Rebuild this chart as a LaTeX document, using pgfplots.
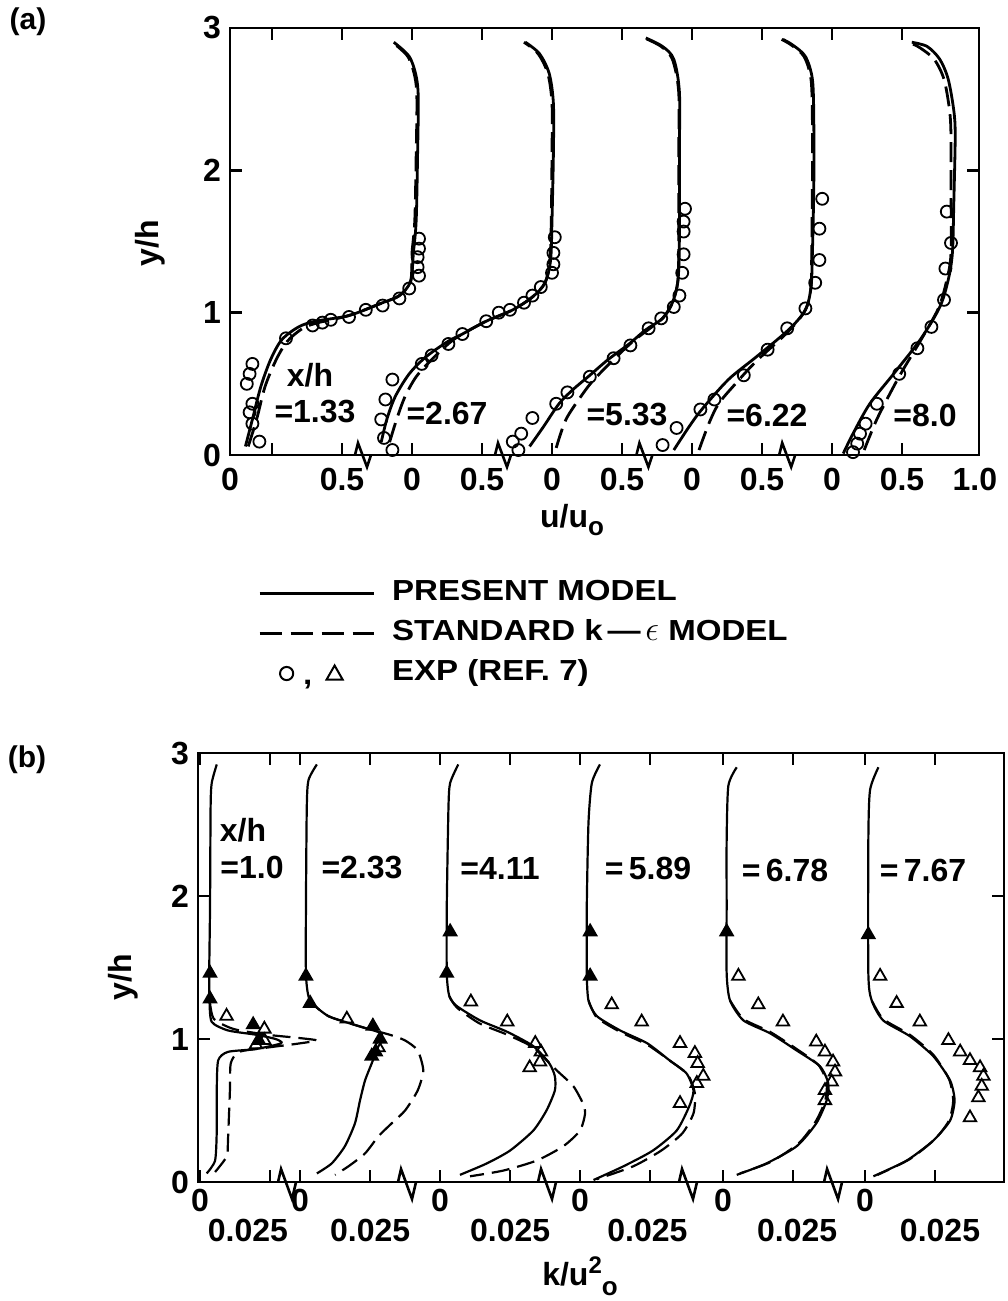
\documentclass[border=0pt]{standalone}
\usepackage{pgfplots}
\pgfplotsset{compat=1.18}
\usepackage{fontspec}
\setmainfont{Liberation Sans}
\newfontfamily\legfam{Liberation Sans}[FakeStretch=1.14]
\newcommand\tfont{\fontsize{16}{18}\selectfont\bfseries}
\newcommand\lfont{\legfam\fontsize{14.5}{17}\selectfont\bfseries}
\pgfplotsset{
  solidA/.style={black, line width=1.4pt, smooth, tension=0.5, forget plot, mark=none},
  dashA/.style={black, line width=1.4pt, smooth, tension=0.5, dash pattern=on 10pt off 4pt, forget plot, mark=none},
  solidB/.style={black, line width=1.1pt, smooth, tension=0.4, forget plot, mark=none},
  dashB/.style={black, line width=1.1pt, smooth, tension=0.4, dash pattern=on 9pt off 4pt, forget plot, mark=none},
  circ/.style={black, only marks, mark=o, mark size=3pt, mark options={line width=0.9pt, solid}, forget plot},
  tri/.style={black, only marks, mark=triangle, mark size=3.6pt, mark options={line width=0.9pt, solid}, forget plot},
  trif/.style={black, only marks, mark=triangle*, mark size=3.6pt, mark options={line width=0.9pt, solid, fill=black}, forget plot},
  common/.style={scale only axis, clip=false, ymin=0, ymax=3,
    axis line style={line width=1.4pt}, tick style={line width=1.2pt, black},
    major tick length=6pt, tick align=inside,
    ytick={0,1,2,3}, yticklabels={0,1,2,3},
    ticklabel style={font=\tfont},
    yticklabel style={xshift=-1pt}},
}
\newcommand\brkA[1]{\draw[line width=1.3pt, black] ([xshift=-4pt]axis cs:#1,0) -- ([xshift=-2.5pt,yshift=6pt]axis cs:#1,0) -- ([xshift=2pt,yshift=-6pt]axis cs:#1,0) -- ([xshift=4pt]axis cs:#1,0);}
\newcommand\brkB[1]{\draw[line width=1.3pt, black] ([xshift=-4.5pt]axis cs:#1,0) -- ([xshift=-3pt,yshift=6.5pt]axis cs:#1,0) -- ([xshift=2.5pt,yshift=-8.5pt]axis cs:#1,0) -- ([xshift=4.5pt]axis cs:#1,0);}
\begin{document}
\begin{tikzpicture}
\useasboundingbox (0pt,0pt) rectangle (503.5pt,-650.5pt);
% ---------------- panel (a) ----------------
\begin{axis}[common,
  at={(115pt,-14pt)}, anchor=north west, width=374.5pt, height=213.5pt,
  xmin=0, xmax=5.35,
  xtick={0,0.3,0.8,1.3,1.8,2.3,2.8,3.3,3.8,4.3,4.8},
  xticklabels={0,,0.5,0,0.5,0,0.5,0,0.5,0,0.5},
  extra x ticks={5.32}, extra x tick labels={1.0},
  extra x tick style={major tick length=0pt},
  xticklabel style={yshift=-3pt},
  legend image code/.code={\draw[#1] (0pt,0pt) -- (57pt,0pt);},
  legend cell align=left,
  legend style={at={(0.037,-0.293)}, anchor=north west, draw=none, fill=none,
    inner sep=0pt, row sep=7pt, font=\lfont,
    nodes={inner sep=0pt, text height=10pt, text depth=3pt},
    /tikz/every odd column/.append style={column sep=8.5pt}},
]
\addlegendimage{black, line width=1.5pt}
\addlegendentry{PRESENT MODEL}
\addlegendimage{black, line width=1.5pt, dash pattern=on 11pt off 4.5pt}
\addlegendentry{STANDARD k\,\textemdash\,{\fontsize{17}{17}\selectfont$\epsilon$} MODEL}
\addlegendimage{legend image code/.code={
   \draw[line width=1pt] (13.5pt,0pt) circle[radius=3.3pt];
   \node[inner sep=0pt, font=\lfont] at (21.5pt,-2pt) {,};
   \draw[line width=1pt] (33.5pt,-3pt) -- (41.5pt,-3pt) -- (37.5pt,4pt) -- cycle;}}
\addlegendentry{EXP (REF. 7)}
% x/h = 1.33 (offset 0.3)
\addplot[solidA] table[x expr=\thisrowno{0}+0.3, y index=1] {
-0.19 0.06
-0.14 0.25
-0.08 0.48
-0.01 0.67
0.07 0.81
0.19 0.90
0.31 0.94
0.55 0.98
0.79 1.07
0.91 1.12
0.99 1.22
1.01 1.42
1.03 1.65
1.04 2.12
1.045 2.50
1.03 2.66
0.98 2.80
0.87 2.90
};
\addplot[dashA] table[x expr=\thisrowno{0}+0.3, y index=1] {
-0.17 0.06
-0.11 0.25
-0.05 0.48
0.03 0.67
0.11 0.80
0.22 0.89
0.33 0.93
0.55 0.98
0.79 1.07
0.91 1.12
0.99 1.22
1.00 1.42
1.02 1.65
1.03 2.12
1.035 2.50
1.02 2.66
0.97 2.80
0.86 2.90
};
\addplot[circ] table[x expr=\thisrowno{0}+0.3, y index=1] {
-0.09 0.094
-0.14 0.22
-0.16 0.30
-0.14 0.36
-0.18 0.50
-0.16 0.57
-0.14 0.64
0.10 0.82
0.29 0.91
0.36 0.93
0.42 0.95
0.55 0.97
0.67 1.02
0.79 1.05
0.91 1.10
0.98 1.17
1.05 1.26
1.04 1.32
1.04 1.39
1.05 1.45
1.05 1.52
};
% x/h = 2.67 (offset 1.3)
\addplot[solidA] table[x expr=\thisrowno{0}+1.3, y index=1] {
-0.22 0.09
-0.18 0.25
-0.12 0.41
-0.02 0.57
0.10 0.69
0.26 0.80
0.36 0.85
0.53 0.94
0.72 1.02
0.86 1.11
0.95 1.21
0.99 1.37
1.00 1.65
1.01 2.12
1.01 2.47
0.98 2.68
0.91 2.82
0.81 2.90
};
\addplot[dashA] table[x expr=\thisrowno{0}+1.3, y index=1] {
-0.16 0.09
-0.11 0.25
-0.05 0.41
0.03 0.55
0.14 0.67
0.27 0.79
0.36 0.85
0.53 0.94
0.72 1.02
0.86 1.11
0.95 1.21
0.985 1.37
0.995 1.65
1.00 2.12
1.00 2.47
0.97 2.68
0.90 2.82
0.80 2.90
};
\addplot[circ] table[x expr=\thisrowno{0}+1.3, y index=1] {
-0.14 0.035
-0.20 0.12
-0.22 0.25
-0.19 0.39
-0.14 0.53
0.07 0.64
0.14 0.70
0.26 0.78
0.36 0.85
0.53 0.94
0.62 1.00
0.70 1.02
0.80 1.07
0.86 1.12
0.92 1.18
1.00 1.28
1.01 1.34
1.01 1.42
1.02 1.53
};
% x/h = 5.33 (offset 2.3)
\addplot[solidA] table[x expr=\thisrowno{0}+2.3, y index=1] {
-0.16 0.06
-0.06 0.20
0.05 0.36
0.15 0.46
0.27 0.56
0.40 0.67
0.55 0.78
0.67 0.88
0.79 0.96
0.86 1.07
0.90 1.23
0.91 1.53
0.91 2.12
0.91 2.55
0.87 2.78
0.79 2.87
0.67 2.93
};
\addplot[dashA] table[x expr=\thisrowno{0}+2.3, y index=1] {
0.03 0.05
0.10 0.25
0.22 0.43
0.30 0.53
0.45 0.68
0.58 0.80
0.70 0.89
0.79 0.96
0.86 1.07
0.90 1.23
0.905 1.53
0.905 2.12
0.905 2.55
0.86 2.78
0.78 2.87
0.66 2.93
};
\addplot[circ] table[x expr=\thisrowno{0}+2.3, y index=1] {
-0.28 0.094
-0.24 0.035
-0.22 0.15
-0.14 0.26
0.03 0.36
0.11 0.44
0.27 0.55
0.44 0.68
0.56 0.77
0.69 0.89
0.78 0.96
0.87 1.04
0.91 1.12
0.93 1.28
0.94 1.41
0.94 1.57
0.94 1.64
0.95 1.73
};
% x/h = 6.22 (offset 3.3)
\addplot[solidA] table[x expr=\thisrowno{0}+3.3, y index=1] {
-0.13 0.035
-0.02 0.20
0.07 0.32
0.26 0.53
0.46 0.69
0.69 0.88
0.81 1.02
0.85 1.18
0.86 1.42
0.87 1.89
0.87 2.35
0.86 2.64
0.81 2.80
0.72 2.88
0.65 2.92
};
\addplot[dashA] table[x expr=\thisrowno{0}+3.3, y index=1] {
0.05 0.035
0.12 0.22
0.19 0.36
0.31 0.50
0.46 0.66
0.69 0.87
0.81 1.02
0.85 1.18
0.855 1.42
0.86 1.89
0.86 2.35
0.85 2.64
0.80 2.80
0.71 2.88
0.64 2.92
};
\addplot[circ] table[x expr=\thisrowno{0}+3.3, y index=1] {
-0.21 0.07
-0.11 0.19
0.06 0.32
0.16 0.39
0.37 0.56
0.54 0.74
0.68 0.89
0.81 1.03
0.88 1.21
0.91 1.37
0.91 1.59
0.93 1.80
};
% x/h = 8.0 (offset 4.3)
\addplot[solidA] table[x expr=\thisrowno{0}+4.3, y index=1] {
0.08 0.01
0.15 0.15
0.27 0.36
0.44 0.57
0.63 0.81
0.77 1.04
0.83 1.23
0.86 1.42
0.87 1.77
0.88 2.24
0.87 2.42
0.83 2.64
0.77 2.78
0.68 2.87
0.57 2.90
};
\addplot[dashA] table[x expr=\thisrowno{0}+4.3, y index=1] {
0.23 0.035
0.32 0.25
0.44 0.48
0.52 0.62
0.63 0.80
0.76 1.03
0.82 1.23
0.85 1.42
0.85 1.89
0.85 2.24
0.84 2.42
0.80 2.64
0.73 2.78
0.63 2.86
0.57 2.89
};
\addplot[circ] table[x expr=\thisrowno{0}+4.3, y index=1] {
0.15 0.02
0.18 0.08
0.20 0.15
0.24 0.22
0.32 0.36
0.48 0.57
0.61 0.75
0.71 0.90
0.80 1.09
0.81 1.31
0.85 1.49
0.82 1.71
};
\brkA{0.95}\brkA{1.95}\brkA{2.96}\brkA{3.98}
\end{axis}
% ---------------- panel (b) ----------------
\begin{axis}[common,
  at={(99pt,-376.5pt)}, anchor=north west, width=403pt, height=214.5pt,
  xmin=0, xmax=5.757,
  xtick={0.014,0.514,0.729,1.229,1.729,2.229,2.729,3.229,3.75,4.25,4.764,5.264},
  xticklabels={0,,0,,0,,0,,0,,0,},
  extra x ticks={0.357,1.23,2.23,3.21,4.28,5.30},
  extra x tick labels={0.025,0.025,0.025,0.025,0.025,0.025},
  extra x tick style={major tick length=0pt, xticklabel style={yshift=-15pt}},
  xticklabel style={yshift=0pt},
]
% x/h = 1.0 (offset 0.014)
\addplot[solidB] table[x expr=\thisrowno{0}*20+0.014, y index=1] {
0.0060 2.92
0.0042 2.79
0.0038 2.62
0.0036 1.93
0.0033 1.46
0.0034 1.27
0.0042 1.12
0.0100 1.06
0.0200 1.03
0.0270 1.00
0.0290 0.97
0.0200 0.93
0.0100 0.91
0.0065 0.85
0.0060 0.64
0.0060 0.36
0.0054 0.15
0.0024 0.06
};
\addplot[dashB] table[x expr=\thisrowno{0}*20+0.014, y index=1] {
0.0036 1.25
0.0050 1.14
0.0120 1.07
0.0240 1.03
0.0340 1.01
0.0417 0.99
0.0340 0.965
0.0240 0.94
0.0140 0.91
0.0110 0.83
0.0107 0.64
0.0100 0.29
0.0096 0.18
0.0054 0.07
};
\addplot[trif] table[x expr=\thisrowno{0}*20+0.014, y index=1] {
0.0036 1.46
0.0036 1.28
0.0190 1.10
0.0210 0.99
};
\addplot[tri] table[x expr=\thisrowno{0}*20+0.014, y index=1] {
0.0095 1.16
0.0230 1.07
0.0230 0.99
0.0200 0.96
};
% x/h = 2.33 (offset 0.729)
\addplot[solidB] table[x expr=\thisrowno{0}*20+0.729, y index=1] {
0.0060 2.92
0.0030 2.81
0.0024 2.62
0.0021 1.93
0.0021 1.46
0.0030 1.30
0.0054 1.23
0.0101 1.16
0.0160 1.12
0.0244 1.07
0.0290 1.04
0.0290 0.98
0.0280 0.95
0.0256 0.83
0.0232 0.71
0.0214 0.57
0.0196 0.41
0.0160 0.25
0.0113 0.13
0.0060 0.06
};
\addplot[dashB] table[x expr=\thisrowno{0}*20+0.729, y index=1] {
0.0030 1.30
0.0054 1.23
0.0101 1.16
0.0160 1.12
0.0244 1.07
0.0320 1.03
0.0375 0.99
0.0420 0.92
0.0440 0.78
0.0420 0.64
0.0375 0.50
0.0327 0.41
0.0280 0.32
0.0232 0.20
0.0173 0.11
0.0125 0.05
};
\addplot[trif] table[x expr=\thisrowno{0}*20+0.729, y index=1] {
0.0021 1.44
0.0036 1.25
0.0260 1.09
0.0286 1.00
0.0270 0.91
0.0256 0.88
};
\addplot[tri] table[x expr=\thisrowno{0}*20+0.729, y index=1] {
0.0167 1.14
0.0280 0.94
};
% x/h = 4.11 (offset 1.729)
\addplot[solidB] table[x expr=\thisrowno{0}*20+1.729, y index=1] {
0.0065 2.92
0.0036 2.79
0.0030 2.62
0.0024 1.93
0.0024 1.46
0.0033 1.30
0.0060 1.23
0.0143 1.13
0.0240 1.05
0.0333 0.95
0.0390 0.83
0.0410 0.74
0.0410 0.64
0.0380 0.50
0.0333 0.36
0.0250 0.22
0.0167 0.13
0.0071 0.05
};
\addplot[dashB] table[x expr=\thisrowno{0}*20+1.729, y index=1] {
0.0033 1.30
0.0060 1.22
0.0140 1.11
0.0240 1.03
0.0333 0.94
0.0417 0.78
0.0476 0.67
0.0510 0.55
0.0518 0.48
0.0500 0.36
0.0440 0.25
0.0345 0.15
0.0226 0.08
0.0107 0.04
};
\addplot[trif] table[x expr=\thisrowno{0}*20+1.729, y index=1] {
0.0036 1.75
0.0024 1.46
};
\addplot[tri] table[x expr=\thisrowno{0}*20+1.729, y index=1] {
0.0110 1.26
0.0240 1.12
0.0340 0.97
0.0360 0.91
0.0357 0.84
0.0320 0.80
};
% x/h = 5.89 (offset 2.729)
\addplot[solidB] table[x expr=\thisrowno{0}*20+2.729, y index=1] {
0.0071 2.92
0.0042 2.79
0.0030 2.51
0.0024 1.93
0.0024 1.46
0.0030 1.27
0.0060 1.16
0.0143 1.06
0.0240 0.97
0.0320 0.85
0.0380 0.76
0.0405 0.64
0.0390 0.53
0.0345 0.36
0.0260 0.22
0.0155 0.11
0.0048 0.014
};
\addplot[dashB] table[x expr=\thisrowno{0}*20+2.729, y index=1] {
0.0030 1.27
0.0060 1.15
0.0143 1.05
0.0240 0.96
0.0320 0.85
0.0385 0.75
0.0410 0.62
0.0405 0.48
0.0365 0.34
0.0290 0.22
0.0190 0.11
0.0060 0.02
};
\addplot[trif] table[x expr=\thisrowno{0}*20+2.729, y index=1] {
0.0036 1.75
0.0036 1.44
};
\addplot[tri] table[x expr=\thisrowno{0}*20+2.729, y index=1] {
0.0113 1.24
0.0220 1.12
0.0357 0.97
0.0410 0.90
0.0420 0.83
0.0440 0.74
0.0417 0.69
0.0357 0.55
};
% x/h = 6.78 (offset 3.75)
\addplot[solidB] table[x expr=\thisrowno{0}*20+3.75, y index=1] {
0.0049 2.90
0.0019 2.77
0.0013 2.39
0.0013 1.93
0.0013 1.46
0.0025 1.27
0.0073 1.13
0.0168 1.04
0.0263 0.92
0.0346 0.81
0.0376 0.69
0.0370 0.57
0.0333 0.41
0.0263 0.25
0.0155 0.13
0.0049 0.05
};
\addplot[dashB] table[x expr=\thisrowno{0}*20+3.75, y index=1] {
0.0025 1.27
0.0073 1.14
0.0168 1.05
0.0263 0.93
0.0340 0.82
0.0370 0.70
0.0365 0.57
0.0330 0.42
0.0270 0.27
0.0170 0.14
0.0060 0.06
};
\addplot[trif] table[x expr=\thisrowno{0}*20+3.75, y index=1] {
0.0013 1.75
};
\addplot[tri] table[x expr=\thisrowno{0}*20+3.75, y index=1] {
0.0055 1.44
0.0126 1.24
0.0214 1.12
0.0333 0.98
0.0364 0.91
0.0393 0.84
0.0400 0.77
0.0388 0.70
0.0364 0.64
0.0364 0.57
};
% x/h = 7.67 (offset 4.764)
\addplot[solidB] table[x expr=\thisrowno{0}*20+4.764, y index=1] {
0.0048 2.90
0.0018 2.74
0.0012 2.39
0.0012 1.46
0.0024 1.27
0.0065 1.13
0.0160 1.02
0.0244 0.88
0.0304 0.71
0.0320 0.57
0.0304 0.43
0.0244 0.29
0.0149 0.15
0.0030 0.04
};
\addplot[dashB] table[x expr=\thisrowno{0}*20+4.764, y index=1] {
0.0024 1.27
0.0065 1.14
0.0160 1.03
0.0244 0.89
0.0300 0.72
0.0315 0.57
0.0300 0.43
0.0250 0.30
0.0160 0.16
0.0045 0.05
};
\addplot[trif] table[x expr=\thisrowno{0}*20+4.764, y index=1] {
0.0012 1.73
};
\addplot[tri] table[x expr=\thisrowno{0}*20+4.764, y index=1] {
0.0054 1.44
0.0113 1.25
0.0196 1.12
0.0298 0.99
0.0340 0.91
0.0375 0.85
0.0411 0.80
0.0423 0.74
0.0417 0.67
0.0405 0.59
0.0375 0.45
};
\brkB{0.636}\brkB{1.493}\brkB{2.493}\brkB{3.5}\brkB{4.536}
\end{axis}
% ---------------- texts ----------------
\node[font=\fontsize{15}{17}\selectfont\bfseries] at (14pt,-11pt) {(a)};
\node[font=\fontsize{15}{17}\selectfont\bfseries] at (13.5pt,-380pt) {(b)};
\node[font=\tfont, rotate=90] at (75pt,-121.5pt) {y/h};
\node[font=\tfont, rotate=90] at (61.5pt,-488.5pt) {y/h};
\node[font=\tfont] at (286pt,-260pt) {u/u\raisebox{-4pt}{\fontsize{13}{13}\selectfont o}};
\node[font=\tfont] at (290pt,-638pt) {k/u\raisebox{6pt}{\fontsize{12}{12}\selectfont 2}\raisebox{-5pt}{\fontsize{13}{13}\selectfont o}};
\node[font=\tfont] at (155pt,-187.5pt) {x/h};
\node[font=\tfont] at (157.5pt,-206pt) {=1.33};
\node[font=\tfont] at (223.5pt,-206.5pt) {=2.67};
\node[font=\tfont] at (313.5pt,-207.5pt) {=5.33};
\node[font=\tfont] at (383.5pt,-207.5pt) {=6.22};
\node[font=\tfont] at (462.5pt,-207.5pt) {=8.0};
\node[font=\tfont] at (121.5pt,-415pt) {x/h};
\node[font=\tfont] at (126pt,-433.5pt) {=1.0};
\node[font=\tfont] at (181pt,-433.5pt) {=2.33};
\node[font=\tfont] at (250pt,-434pt) {=4.11};
\node[font=\tfont] at (324pt,-434pt) {=\,5.89};
\node[font=\tfont] at (392.5pt,-435pt) {=\,6.78};
\node[font=\tfont] at (461.5pt,-435pt) {=\,7.67};
\end{tikzpicture}
\end{document}
